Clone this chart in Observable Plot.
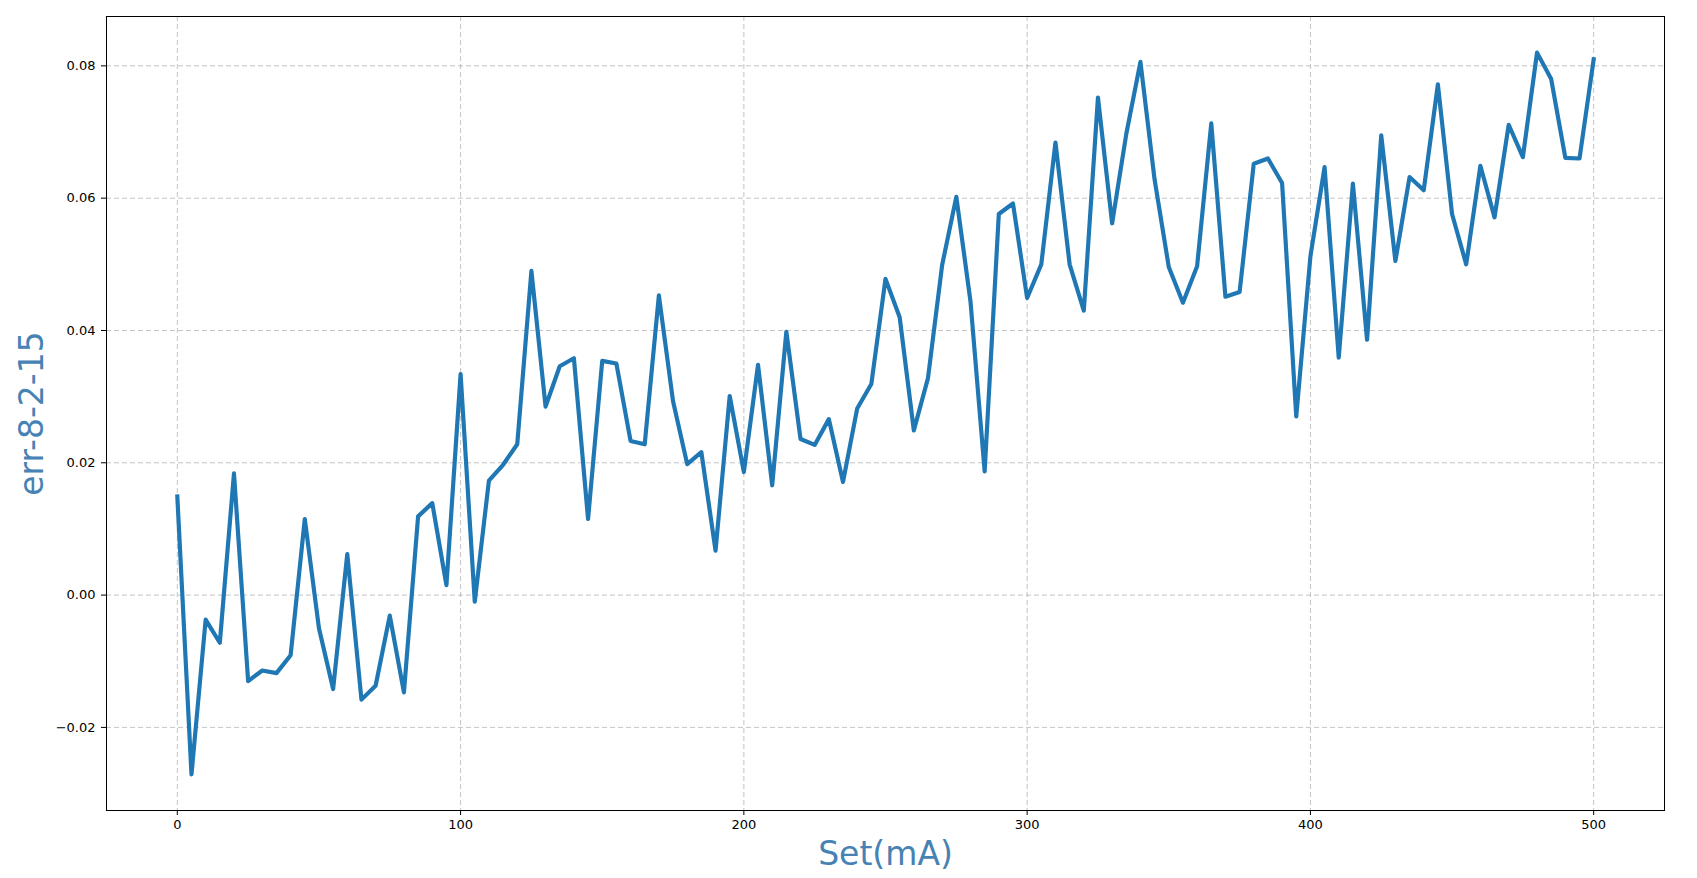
<!DOCTYPE html>
<html>
<head>
<meta charset="utf-8">
<script src="https://cdn.jsdelivr.net/npm/d3@7"></script>
<script src="https://cdn.jsdelivr.net/npm/@observablehq/plot@0.6"></script>
<style>
  html, body { margin: 0; padding: 0; background: #ffffff; }
  #chart svg { display: block; }
</style>
</head>
<body>
<div id="chart"></div>
<script>
const setMA = [0,5,10,15,20,25,30,35,40,45,50,55,60,65,70,75,80,85,90,95,
  100,105,110,115,120,125,130,135,140,145,150,155,160,165,170,175,180,185,190,195,
  200,205,210,215,220,225,230,235,240,245,250,255,260,265,270,275,280,285,290,295,
  300,305,310,315,320,325,330,335,340,345,350,355,360,365,370,375,380,385,390,395,
  400,405,410,415,420,425,430,435,440,445,450,455,460,465,470,475,480,485,490,495,500];

const errValues = [0.0149,-0.0271,-0.0037,-0.0072,0.0184,-0.0130,-0.0114,-0.0118,-0.0091,0.0115,
  -0.0050,-0.0142,0.0062,-0.0158,-0.0137,-0.0031,-0.0147,0.0119,0.0139,0.0015,
  0.0334,-0.0010,0.0173,0.0197,0.0228,0.0490,0.0285,0.0346,0.0358,0.0115,
  0.0354,0.0350,0.0233,0.0228,0.0453,0.0293,0.0198,0.0216,0.0067,0.0301,
  0.0186,0.0348,0.0166,0.0398,0.0236,0.0227,0.0266,0.0171,0.0282,0.0319,
  0.0478,0.0420,0.0249,0.0328,0.0499,0.0602,0.0444,0.0187,0.0576,0.0592,
  0.0449,0.0500,0.0684,0.0500,0.0430,0.0752,0.0562,0.0697,0.0806,0.0628,
  0.0496,0.0442,0.0497,0.0713,0.0451,0.0458,0.0652,0.0660,0.0623,0.0270,
  0.0512,0.0647,0.0359,0.0622,0.0386,0.0695,0.0505,0.0632,0.0612,0.0772,
  0.0576,0.0500,0.0649,0.0571,0.0711,0.0662,0.0820,0.0780,0.0661,0.0660,0.0810];

const xTicks = [0, 100, 200, 300, 400, 500];
const yTicks = [-0.02, 0.00, 0.02, 0.04, 0.06, 0.08];
const xLabel = "Set(mA)";
const yLabel = "err-8-2-15";

const data = setMA.map((x, i) => ({x, y: errValues[i]}));

const labelColor = "#4682b4";
const gridStyle = {stroke: "#b0b0b0", strokeOpacity: 0.75, strokeDasharray: "5,3", strokeWidth: 1};

const chart = Plot.plot({
  width: 1697,
  height: 878,
  marginLeft: 106,
  marginRight: 33,
  marginTop: 16,
  marginBottom: 68,
  style: {fontFamily: "DejaVu Sans", background: "#ffffff", color: "#000"},
  x: {domain: [-25, 525], label: null},
  y: {domain: [-0.03256, 0.08746], label: null},
  marks: [
    Plot.gridX(xTicks, gridStyle),
    Plot.gridY(yTicks, gridStyle),
    Plot.line(data, {x: "x", y: "y", stroke: "#1f77b4", strokeWidth: 4.17, strokeLinejoin: "round", strokeLinecap: "square"}),
    Plot.frame({stroke: "#000", strokeWidth: 1}),
    Plot.axisX({ticks: xTicks, tickSize: 5, tickPadding: 4, fontSize: 13, label: null, tickFormat: d3.format("d"), stroke: "#000"}),
    Plot.axisY({ticks: yTicks, tickSize: 5, tickPadding: 6, fontSize: 13, label: null, tickFormat: d3.format(".2f"), stroke: "#000"}),
    Plot.text([xLabel], {text: d => d, frameAnchor: "bottom", dy: 44, lineAnchor: "middle", textAnchor: "middle", fontSize: 33, fill: labelColor}),
    Plot.text([yLabel], {text: d => d, frameAnchor: "left", dx: -74, rotate: -90, lineAnchor: "middle", textAnchor: "middle", fontSize: 33, fill: labelColor})
  ]
});

document.getElementById("chart").appendChild(chart);
</script>
</body>
</html>
